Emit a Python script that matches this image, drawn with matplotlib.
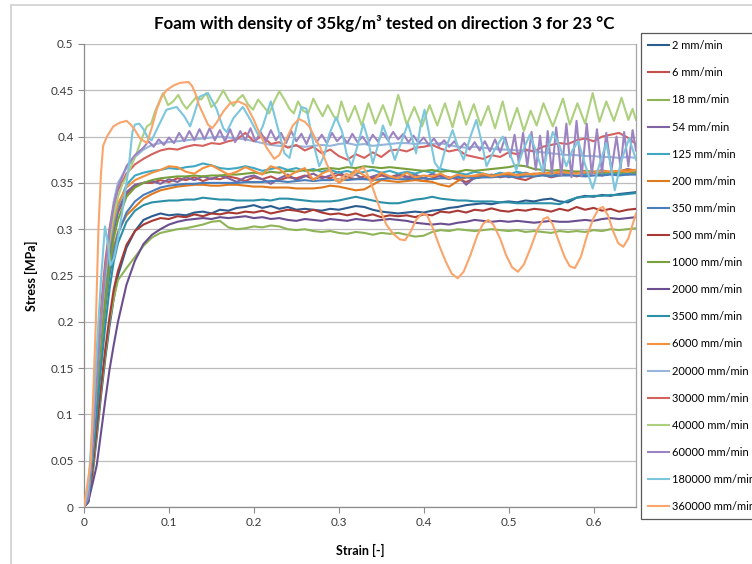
import matplotlib.pyplot as plt
from matplotlib.patches import Rectangle

plt.rcParams['font.family'] = ['Lato', 'DejaVu Sans']

rates = ['2', '6', '18', '54', '125', '200', '350', '500', '1000', '2000',
         '3500', '6000', '20000', '30000', '40000', '60000', '180000', '360000']
colors = ['#2B5C8F', '#C0504D', '#8FB357', '#8064A2', '#3FA7C2', '#E07A1F',
          '#4A7EBB', '#A83A36', '#77A03C', '#6A4E8F', '#2C8FA8', '#F4913F',
          '#97B4DA', '#D4625F', '#ADD07E', '#9C84C2', '#7CC6DE', '#F9A56C']

# strain samples for the steady-rate tests: loading ramp, then plateau
rise_strain = [0.0, 0.005, 0.01, 0.015, 0.02, 0.025, 0.03, 0.035, 0.04, 0.05, 0.06, 0.07]
plateau_strain = [0.08, 0.09, 0.10, 0.11, 0.12, 0.13, 0.14, 0.15, 0.16, 0.17,
                  0.18, 0.19, 0.20, 0.21, 0.22, 0.23, 0.24, 0.25, 0.26, 0.27,
                  0.28, 0.29, 0.30, 0.31, 0.32, 0.33, 0.34, 0.35, 0.36, 0.37,
                  0.38, 0.39, 0.40, 0.41, 0.42, 0.43, 0.44, 0.45, 0.46, 0.47,
                  0.48, 0.49, 0.50, 0.51, 0.52, 0.53, 0.54, 0.55, 0.56, 0.57,
                  0.58, 0.59, 0.60, 0.61, 0.62, 0.63, 0.64, 0.65]

stress_2 = [0, 0.005, 0.035, 0.075, 0.12, 0.16, 0.195, 0.225, 0.25, 0.28, 0.298, 0.31,
            0.314, 0.317, 0.315, 0.316, 0.315, 0.318, 0.319, 0.317, 0.321, 0.320,
            0.323, 0.324, 0.326, 0.323, 0.325, 0.322, 0.324, 0.321, 0.322, 0.321,
            0.320, 0.322, 0.321, 0.323, 0.325, 0.324, 0.321, 0.319, 0.318, 0.317,
            0.318, 0.319, 0.318, 0.320, 0.321, 0.323, 0.324, 0.326, 0.327, 0.328,
            0.327, 0.329, 0.330, 0.329, 0.331, 0.330, 0.332, 0.333, 0.330, 0.329,
            0.334, 0.336, 0.335, 0.337, 0.336, 0.338, 0.339, 0.340]
stress_6 = [0, 0.008, 0.055, 0.12, 0.18, 0.23, 0.27, 0.298, 0.318, 0.338, 0.347, 0.35,
            0.350, 0.353, 0.351, 0.355, 0.353, 0.356, 0.352, 0.355, 0.354, 0.357,
            0.355, 0.352, 0.356, 0.354, 0.357, 0.353, 0.356, 0.355, 0.358, 0.354,
            0.357, 0.355, 0.359, 0.356, 0.354, 0.357, 0.355, 0.358, 0.356, 0.359,
            0.357, 0.354, 0.352, 0.355, 0.358, 0.356, 0.354, 0.351, 0.355, 0.357,
            0.359, 0.356, 0.358, 0.355, 0.353, 0.357, 0.359, 0.356, 0.358, 0.360,
            0.357, 0.359, 0.361, 0.358, 0.360, 0.362, 0.359, 0.361]
stress_18 = [0, 0.006, 0.035, 0.08, 0.125, 0.165, 0.2, 0.225, 0.245, 0.258, 0.27, 0.282,
             0.291, 0.296, 0.298, 0.300, 0.301, 0.303, 0.305, 0.308, 0.309, 0.302,
             0.300, 0.301, 0.303, 0.302, 0.304, 0.303, 0.300, 0.299, 0.300, 0.298,
             0.297, 0.298, 0.296, 0.295, 0.297, 0.296, 0.294, 0.296, 0.295, 0.296,
             0.294, 0.292, 0.293, 0.297, 0.299, 0.298, 0.300, 0.299, 0.298, 0.299,
             0.300, 0.299, 0.298, 0.299, 0.297, 0.298, 0.297, 0.296, 0.298, 0.297,
             0.298, 0.297, 0.299, 0.298, 0.300, 0.299, 0.300, 0.301]
stress_54 = [0, 0.009, 0.06, 0.125, 0.185, 0.235, 0.275, 0.3, 0.32, 0.34, 0.348, 0.35,
             0.352, 0.349, 0.354, 0.351, 0.356, 0.353, 0.357, 0.354, 0.358, 0.355,
             0.351, 0.356, 0.358, 0.354, 0.349, 0.355, 0.359, 0.353, 0.357, 0.360,
             0.355, 0.358, 0.362, 0.356, 0.359, 0.354, 0.357, 0.360, 0.355, 0.358,
             0.356, 0.359, 0.355, 0.360, 0.357, 0.354, 0.358, 0.348, 0.356, 0.359,
             0.357, 0.360, 0.356, 0.359, 0.361, 0.358, 0.360, 0.357, 0.361, 0.359,
             0.362, 0.359, 0.361, 0.364, 0.360, 0.362, 0.365, 0.363]
stress_125 = [0, 0.01, 0.065, 0.13, 0.19, 0.24, 0.28, 0.305, 0.325, 0.348, 0.358, 0.361,
              0.363, 0.364, 0.366, 0.365, 0.367, 0.368, 0.371, 0.369, 0.366, 0.365,
              0.366, 0.368, 0.366, 0.363, 0.365, 0.367, 0.364, 0.366, 0.363, 0.365,
              0.362, 0.364, 0.361, 0.363, 0.360, 0.362, 0.364, 0.361, 0.363, 0.360,
              0.362, 0.360, 0.363, 0.361, 0.365, 0.363, 0.361, 0.359, 0.362, 0.360,
              0.358, 0.361, 0.359, 0.362, 0.360, 0.358, 0.361, 0.359, 0.362, 0.360,
              0.361, 0.359, 0.362, 0.360, 0.361, 0.359, 0.360, 0.361]
stress_200 = [0, 0.01, 0.06, 0.12, 0.175, 0.22, 0.255, 0.28, 0.297, 0.315, 0.324, 0.333,
              0.338, 0.342, 0.344, 0.346, 0.347, 0.348, 0.348, 0.347, 0.347, 0.348,
              0.348, 0.347, 0.346, 0.346, 0.345, 0.345, 0.345, 0.344, 0.344, 0.344,
              0.345, 0.347, 0.346, 0.344, 0.342, 0.343, 0.348, 0.353, 0.352, 0.351,
              0.352, 0.353, 0.352, 0.351, 0.348, 0.346, 0.352, 0.356, 0.357, 0.357,
              0.358, 0.358, 0.359, 0.358, 0.359, 0.360, 0.360, 0.361, 0.361, 0.362,
              0.362, 0.361, 0.362, 0.363, 0.362, 0.363, 0.364, 0.364]
stress_350 = [0, 0.008, 0.055, 0.115, 0.17, 0.215, 0.25, 0.275, 0.295, 0.318, 0.33, 0.337,
              0.341, 0.345, 0.347, 0.348, 0.349, 0.349, 0.350, 0.350, 0.350, 0.350,
              0.350, 0.351, 0.351, 0.351, 0.352, 0.352, 0.351, 0.352, 0.353, 0.352,
              0.353, 0.353, 0.354, 0.353, 0.354, 0.354, 0.353, 0.354, 0.355, 0.354,
              0.354, 0.355, 0.355, 0.354, 0.355, 0.355, 0.356, 0.356, 0.355, 0.356,
              0.356, 0.357, 0.357, 0.356, 0.357, 0.357, 0.358, 0.357, 0.358, 0.358,
              0.358, 0.357, 0.358, 0.358, 0.359, 0.358, 0.359, 0.359]
stress_500 = [0, 0.006, 0.04, 0.085, 0.13, 0.17, 0.205, 0.235, 0.255, 0.283, 0.298, 0.305,
              0.309, 0.312, 0.311, 0.314, 0.313, 0.316, 0.314, 0.317, 0.316, 0.318,
              0.317, 0.319, 0.318, 0.320, 0.317, 0.319, 0.321, 0.320, 0.318, 0.321,
              0.318, 0.316, 0.317, 0.315, 0.317, 0.314, 0.316, 0.313, 0.315, 0.314,
              0.315, 0.313, 0.316, 0.315, 0.319, 0.318, 0.320, 0.318, 0.321, 0.320,
              0.3225, 0.320, 0.319, 0.321, 0.320, 0.322, 0.321, 0.319, 0.322, 0.320,
              0.324, 0.321, 0.323, 0.320, 0.322, 0.319, 0.321, 0.322]
stress_1000 = [0, 0.008, 0.05, 0.11, 0.17, 0.22, 0.26, 0.29, 0.31, 0.335, 0.345, 0.35,
               0.353, 0.355, 0.356, 0.357, 0.357, 0.358, 0.357, 0.358, 0.358, 0.359,
               0.359, 0.360, 0.361, 0.360, 0.362, 0.361, 0.363, 0.362, 0.364, 0.363,
               0.365, 0.366, 0.365, 0.367, 0.366, 0.368, 0.367, 0.366, 0.367, 0.366,
               0.365, 0.364, 0.363, 0.364, 0.362, 0.363, 0.362, 0.364, 0.363, 0.364,
               0.365, 0.366, 0.367, 0.369, 0.368, 0.365, 0.364, 0.363, 0.364, 0.363,
               0.362, 0.363, 0.362, 0.361, 0.362, 0.361, 0.362, 0.361]
stress_2000 = [0, 0.006, 0.025, 0.045, 0.08, 0.115, 0.148, 0.175, 0.2, 0.24, 0.266, 0.284,
               0.294, 0.300, 0.305, 0.308, 0.310, 0.311, 0.312, 0.311, 0.313, 0.312,
               0.313, 0.314, 0.312, 0.313, 0.311, 0.312, 0.310, 0.309, 0.311, 0.310,
               0.309, 0.311, 0.310, 0.309, 0.311, 0.310, 0.309, 0.310, 0.311, 0.310,
               0.309, 0.307, 0.306, 0.305, 0.306, 0.305, 0.307, 0.308, 0.310, 0.309,
               0.308, 0.309, 0.308, 0.309, 0.308, 0.307, 0.308, 0.309, 0.308, 0.308,
               0.309, 0.310, 0.309, 0.311, 0.312, 0.311, 0.312, 0.313]
stress_3500 = [0, 0.008, 0.05, 0.1, 0.15, 0.195, 0.235, 0.265, 0.285, 0.308, 0.32, 0.326,
               0.329, 0.330, 0.331, 0.331, 0.332, 0.332, 0.334, 0.333, 0.332, 0.332,
               0.331, 0.331, 0.331, 0.332, 0.331, 0.333, 0.333, 0.332, 0.331, 0.330,
               0.330, 0.330, 0.331, 0.333, 0.335, 0.333, 0.331, 0.329, 0.328, 0.328,
               0.330, 0.332, 0.333, 0.335, 0.333, 0.332, 0.331, 0.331, 0.330, 0.330,
               0.330, 0.329, 0.329, 0.328, 0.328, 0.328, 0.328, 0.328, 0.327, 0.331,
               0.334, 0.335, 0.336, 0.336, 0.337, 0.337, 0.338, 0.339]
stress_6000 = [0, 0.012, 0.07, 0.14, 0.2, 0.25, 0.285, 0.31, 0.328, 0.345, 0.353, 0.357,
               0.361, 0.364, 0.368, 0.367, 0.362, 0.360, 0.366, 0.369, 0.364, 0.359,
               0.362, 0.367, 0.363, 0.359, 0.368, 0.365, 0.357, 0.362, 0.366, 0.353,
               0.360, 0.364, 0.350, 0.356, 0.364, 0.358, 0.352, 0.361, 0.357, 0.355,
               0.361, 0.356, 0.358, 0.357, 0.360, 0.355, 0.359, 0.357, 0.358, 0.360,
               0.357, 0.359, 0.361, 0.358, 0.360, 0.359, 0.361, 0.360, 0.362, 0.361,
               0.360, 0.362, 0.361, 0.363, 0.362, 0.363, 0.362, 0.364]
stress_20000 = [0, 0.012, 0.07, 0.145, 0.21, 0.26, 0.3, 0.33, 0.35, 0.366, 0.378, 0.386,
                0.391, 0.393, 0.394, 0.395, 0.396, 0.397, 0.398, 0.399, 0.400, 0.399,
                0.398, 0.397, 0.395, 0.393, 0.391, 0.390, 0.389, 0.390, 0.389, 0.390,
                0.391, 0.390, 0.392, 0.393, 0.391, 0.392, 0.390, 0.391, 0.392, 0.393,
                0.393, 0.392, 0.393, 0.392, 0.393, 0.391, 0.389, 0.388, 0.389, 0.388,
                0.387, 0.386, 0.386, 0.385, 0.385, 0.384, 0.383, 0.382, 0.381, 0.380,
                0.380, 0.379, 0.379, 0.378, 0.378, 0.377, 0.378, 0.377]
stress_30000 = [0, 0.012, 0.075, 0.15, 0.215, 0.265, 0.3, 0.325, 0.342, 0.36, 0.37, 0.376,
                0.381, 0.385, 0.387, 0.386, 0.389, 0.391, 0.390, 0.393, 0.392, 0.395,
                0.397, 0.404, 0.395, 0.401, 0.392, 0.394, 0.388, 0.391, 0.385, 0.389,
                0.382, 0.386, 0.379, 0.375, 0.381, 0.377, 0.383, 0.378, 0.385, 0.386,
                0.384, 0.388, 0.389, 0.391, 0.387, 0.384, 0.386, 0.380, 0.378, 0.376,
                0.380, 0.378, 0.383, 0.381, 0.386, 0.384, 0.389, 0.391, 0.393, 0.392,
                0.396, 0.398, 0.395, 0.400, 0.402, 0.404, 0.399, 0.392]

# high-rate tests ring strongly, so these are kept as (strain, stress) pairs
curve_40000 = [(0, 0), (0.005, 0.012), (0.01, 0.07), (0.015, 0.14), (0.02, 0.2), (0.025, 0.25),
               (0.03, 0.29), (0.035, 0.315), (0.04, 0.335), (0.045, 0.348), (0.05, 0.357),
               (0.055, 0.367), (0.062, 0.382), (0.068, 0.398), (0.074, 0.411), (0.079, 0.414),
               (0.084, 0.428), (0.093, 0.447), (0.099, 0.434), (0.105, 0.438), (0.111, 0.445),
               (0.116, 0.436), (0.121, 0.43), (0.127, 0.437), (0.1325, 0.443), (0.138, 0.44),
               (0.144, 0.447), (0.15, 0.432), (0.156, 0.437), (0.164, 0.45), (0.17, 0.44),
               (0.176, 0.433), (0.181, 0.44), (0.187, 0.445), (0.193, 0.435), (0.199, 0.429),
               (0.205, 0.44), (0.212, 0.432), (0.218, 0.425), (0.224, 0.438), (0.23, 0.449),
               (0.236, 0.44), (0.242, 0.43), (0.247, 0.425), (0.252, 0.438), (0.258, 0.428),
               (0.264, 0.425), (0.27, 0.441), (0.276, 0.43), (0.281, 0.422), (0.287, 0.434),
               (0.294, 0.422), (0.298, 0.418), (0.303, 0.438), (0.311, 0.416), (0.319, 0.433),
               (0.327, 0.412), (0.335, 0.436), (0.343, 0.414), (0.352, 0.434), (0.361, 0.412),
               (0.370, 0.445), (0.38, 0.413), (0.389, 0.432), (0.398, 0.411), (0.407, 0.434),
               (0.416, 0.412), (0.425, 0.436), (0.434, 0.41), (0.442, 0.438), (0.45, 0.413),
               (0.459, 0.435), (0.467, 0.412), (0.476, 0.433), (0.484, 0.409), (0.493, 0.438),
               (0.501, 0.407), (0.51, 0.431), (0.518, 0.406), (0.526, 0.428), (0.533, 0.412),
               (0.541, 0.436), (0.552, 0.411), (0.564, 0.441), (0.572, 0.413), (0.581, 0.436),
               (0.59, 0.414), (0.599, 0.447), (0.607, 0.416), (0.615, 0.438), (0.624, 0.417),
               (0.633, 0.442), (0.641, 0.418), (0.646, 0.43), (0.65, 0.418)]

curve_60000 = [(0, 0), (0.005, 0.01), (0.01, 0.065), (0.015, 0.135), (0.02, 0.2), (0.025, 0.255),
               (0.03, 0.295), (0.035, 0.325), (0.04, 0.345), (0.05, 0.368), (0.06, 0.38),
               (0.07, 0.388), (0.076, 0.395), (0.082, 0.389), (0.088, 0.397), (0.094, 0.391),
               (0.100, 0.399), (0.106, 0.393), (0.112, 0.404), (0.118, 0.395), (0.124, 0.406),
               (0.130, 0.396), (0.136, 0.408), (0.142, 0.397), (0.148, 0.409), (0.154, 0.396),
               (0.160, 0.407), (0.166, 0.395), (0.172, 0.408), (0.178, 0.394), (0.184, 0.406),
               (0.190, 0.396), (0.196, 0.409), (0.202, 0.395), (0.208, 0.405), (0.214, 0.394),
               (0.220, 0.407), (0.226, 0.396), (0.232, 0.404), (0.238, 0.393), (0.244, 0.406),
               (0.250, 0.395), (0.256, 0.403), (0.262, 0.392), (0.268, 0.405), (0.274, 0.394),
               (0.280, 0.402), (0.286, 0.393), (0.292, 0.404), (0.298, 0.395), (0.304, 0.401),
               (0.310, 0.393), (0.316, 0.403), (0.322, 0.394), (0.328, 0.400), (0.334, 0.392),
               (0.340, 0.402), (0.346, 0.395), (0.352, 0.404), (0.358, 0.396), (0.364, 0.405),
               (0.370, 0.397), (0.376, 0.403), (0.382, 0.394), (0.388, 0.401), (0.394, 0.393),
               (0.400, 0.399), (0.406, 0.391), (0.412, 0.398), (0.418, 0.390), (0.424, 0.396),
               (0.430, 0.389), (0.436, 0.395), (0.442, 0.387), (0.448, 0.393), (0.454, 0.386),
               (0.460, 0.394), (0.466, 0.385), (0.472, 0.395), (0.478, 0.384), (0.484, 0.397),
               (0.490, 0.383), (0.496, 0.399), (0.502, 0.378), (0.507, 0.402), (0.512, 0.372),
               (0.517, 0.404), (0.522, 0.368), (0.527, 0.405), (0.532, 0.364), (0.537, 0.401),
               (0.542, 0.362), (0.546, 0.406), (0.551, 0.360), (0.556, 0.410), (0.562, 0.358),
               (0.568, 0.414), (0.574, 0.356), (0.580, 0.417), (0.586, 0.357), (0.592, 0.414),
               (0.598, 0.359), (0.604, 0.408), (0.610, 0.361), (0.615, 0.404), (0.621, 0.363),
               (0.627, 0.400), (0.632, 0.366), (0.636, 0.405), (0.641, 0.368), (0.646, 0.407),
               (0.65, 0.385)]

curve_180000 = [(0, 0), (0.005, 0.02), (0.01, 0.09), (0.015, 0.17), (0.02, 0.245), (0.0247, 0.303),
                (0.028, 0.285), (0.031, 0.261), (0.035, 0.268), (0.04, 0.29), (0.047, 0.33),
                (0.053, 0.37), (0.057, 0.405), (0.06, 0.413), (0.065, 0.414), (0.07, 0.408),
                (0.075, 0.399), (0.0796, 0.396), (0.088, 0.412), (0.097, 0.429), (0.109, 0.432),
                (0.118, 0.422), (0.125, 0.411), (0.13, 0.425), (0.136, 0.443), (0.146, 0.447),
                (0.156, 0.43), (0.164, 0.409), (0.168, 0.405), (0.176, 0.42), (0.187, 0.432),
                (0.196, 0.418), (0.205, 0.402), (0.21, 0.41), (0.22, 0.438), (0.228, 0.41),
                (0.236, 0.382), (0.242, 0.377), (0.25, 0.41), (0.256, 0.432), (0.262, 0.43),
                (0.27, 0.393), (0.277, 0.368), (0.283, 0.38), (0.289, 0.403), (0.297, 0.421),
                (0.304, 0.405), (0.309, 0.382), (0.315, 0.368), (0.322, 0.39), (0.329, 0.414),
                (0.335, 0.395), (0.34, 0.371), (0.346, 0.39), (0.352, 0.412), (0.359, 0.395),
                (0.366, 0.375), (0.374, 0.395), (0.3815, 0.414), (0.386, 0.4), (0.391, 0.382),
                (0.396, 0.41), (0.401, 0.429), (0.407, 0.40), (0.413, 0.372), (0.419, 0.364),
                (0.425, 0.385), (0.434, 0.407), (0.44, 0.39), (0.447, 0.375), (0.455, 0.4),
                (0.462, 0.418), (0.468, 0.395), (0.474, 0.368), (0.483, 0.385), (0.493, 0.40),
                (0.5, 0.385), (0.509, 0.364), (0.517, 0.385), (0.525, 0.402), (0.532, 0.385),
                (0.54, 0.362), (0.546, 0.385), (0.552, 0.405), (0.56, 0.39), (0.568, 0.368),
                (0.575, 0.385), (0.582, 0.395), (0.59, 0.37), (0.599, 0.344), (0.607, 0.37),
                (0.615, 0.393), (0.62, 0.37), (0.625, 0.342), (0.633, 0.375), (0.642, 0.398),
                (0.65, 0.375)]

curve_360000 = [(0, 0), (0.008, 0.05), (0.014, 0.2), (0.017, 0.3), (0.02, 0.36), (0.0225, 0.39),
                (0.027, 0.40), (0.0345, 0.411), (0.042, 0.415), (0.05, 0.417), (0.055, 0.413),
                (0.06, 0.407), (0.066, 0.398), (0.074, 0.393), (0.08, 0.41), (0.0855, 0.429),
                (0.091, 0.442), (0.097, 0.45), (0.105, 0.455), (0.113, 0.458), (0.123, 0.459),
                (0.127, 0.455), (0.131, 0.447), (0.135, 0.435), (0.14, 0.425), (0.146, 0.413),
                (0.151, 0.409), (0.156, 0.415), (0.164, 0.427), (0.172, 0.436), (0.182, 0.438),
                (0.191, 0.434), (0.2, 0.418), (0.207, 0.403), (0.215, 0.388), (0.224, 0.376),
                (0.23, 0.38), (0.238, 0.397), (0.246, 0.412), (0.253, 0.419), (0.26, 0.416),
                (0.266, 0.41), (0.272, 0.398), (0.278, 0.389), (0.286, 0.37), (0.293, 0.358),
                (0.297, 0.352), (0.303, 0.355), (0.309, 0.36), (0.315, 0.357), (0.321, 0.362),
                (0.329, 0.367), (0.336, 0.355), (0.344, 0.334), (0.35, 0.318), (0.356, 0.305),
                (0.364, 0.295), (0.372, 0.289), (0.378, 0.288), (0.385, 0.298), (0.391, 0.31),
                (0.398, 0.317), (0.404, 0.315), (0.41, 0.303), (0.418, 0.283), (0.426, 0.265),
                (0.433, 0.252), (0.44, 0.247), (0.447, 0.254), (0.455, 0.272), (0.463, 0.293),
                (0.47, 0.306), (0.476, 0.31), (0.482, 0.305), (0.49, 0.29), (0.497, 0.272),
                (0.504, 0.259), (0.511, 0.254), (0.518, 0.262), (0.526, 0.28), (0.534, 0.3),
                (0.541, 0.311), (0.546, 0.313), (0.552, 0.305), (0.559, 0.287), (0.566, 0.27),
                (0.572, 0.26), (0.578, 0.258), (0.585, 0.27), (0.592, 0.292), (0.6, 0.312),
                (0.606, 0.322), (0.611, 0.324), (0.617, 0.315), (0.623, 0.298), (0.629, 0.285),
                (0.635, 0.281), (0.641, 0.29), (0.646, 0.305), (0.65, 0.317)]

grid_series = [stress_2, stress_6, stress_18, stress_54, stress_125, stress_200, stress_350,
               stress_500, stress_1000, stress_2000, stress_3500, stress_6000, stress_20000,
               stress_30000]
pair_series = [curve_40000, curve_60000, curve_180000, curve_360000]

fig = plt.figure(figsize=(7.52, 5.64), dpi=100)
ax = fig.add_axes([84 / 752, 1 - 507 / 564, 552 / 752, 463 / 564])

grid_x = rise_strain + plateau_strain
curves = [(grid_x, s) for s in grid_series]
curves += [([p[0] for p in c], [p[1] for p in c]) for c in pair_series]

for i, (xs, ys) in enumerate(curves):
    ax.plot(xs, ys, color=colors[i], lw=1.5, label=rates[i] + ' mm/min', zorder=3 + i * 0.1,
            solid_joinstyle='round')

ax.set_xlim(0, 0.65)
ax.set_ylim(0, 0.5)
yt = [0, 0.05, 0.1, 0.15, 0.2, 0.25, 0.3, 0.35, 0.4, 0.45, 0.5]
ax.set_yticks(yt)
ax.set_yticklabels(['%g' % v for v in yt])
xt = [0, 0.1, 0.2, 0.3, 0.4, 0.5, 0.6]
ax.set_xticks(xt)
ax.set_xticklabels(['%g' % v for v in xt])
ax.tick_params(labelsize=8.5, colors='#3a3a3a', length=4, width=0.8)
ax.tick_params(axis='both', color='#8c8c8c')
ax.grid(axis='y', color='#bdbdbd', lw=0.9)
ax.set_axisbelow(True)
for side in ['left', 'bottom']:
    ax.spines[side].set_color('#8c8c8c')
    ax.spines[side].set_linewidth(0.9)
ax.spines['top'].set_visible(False)
ax.spines['right'].set_color('#a6a6a6')
ax.spines['right'].set_linewidth(0.9)

ax.set_xlabel('Strain [-]', fontsize=9, fontweight='bold', labelpad=11)
ax.set_ylabel('Stress [MPa]', fontsize=9, fontweight='bold', labelpad=9)
fig.text(384 / 752, 1 - 24 / 564, 'Foam with density of 35kg/m³ tested on direction 3 for 23 °C',
         ha='center', va='center', fontsize=12.2, fontweight='bold')

leg = ax.legend(loc='upper left', bbox_to_anchor=(641 / 752, 1 - 33 / 564),
                bbox_transform=fig.transFigure, borderaxespad=0, fontsize=8,
                handlelength=1.9, handletextpad=0.25, labelspacing=1.45, borderpad=0.65,
                fancybox=False, framealpha=1, edgecolor='#595959')
leg.get_frame().set_linewidth(0.9)

# light chart-area border
fig.patches.append(Rectangle((11 / 752, -0.1), 1.2, 1.1 - 5 / 564, transform=fig.transFigure,
                             fill=False, edgecolor='#d0d0d0', lw=1.2))

fig.savefig('out.png', dpi=100)
